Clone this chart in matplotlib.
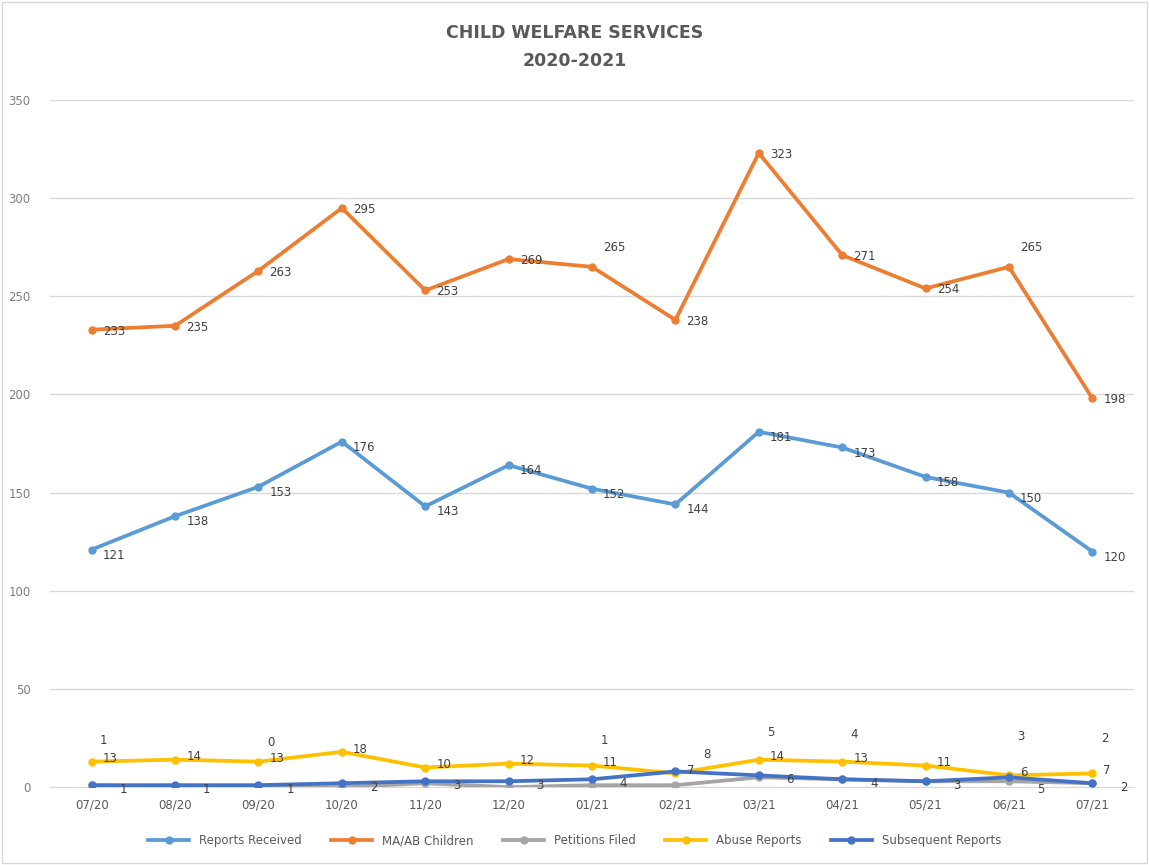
import matplotlib
matplotlib.use("Agg")
import matplotlib.pyplot as plt
from matplotlib.patches import Rectangle

months = ["07/20", "08/20", "09/20", "10/20", "11/20", "12/20", "01/21",
          "02/21", "03/21", "04/21", "05/21", "06/21", "07/21"]
reports_received = [121, 138, 153, 176, 143, 164, 152, 144, 181, 173, 158, 150, 120]
maab_children = [233, 235, 263, 295, 253, 269, 265, 238, 323, 271, 254, 265, 198]
petitions_filed = [1, 0, 0, 0, 2, 0, 1, 1, 5, 4, 3, 3, 2]
abuse_reports = [13, 14, 13, 18, 10, 12, 11, 7, 14, 13, 11, 6, 7]
subsequent_reports = [1, 1, 1, 2, 3, 3, 4, 8, 6, 4, 3, 5, 2]

series = [
    ("Reports Received", reports_received, "#5B9BD5"),
    ("MA/AB Children", maab_children, "#ED7D31"),
    ("Petitions Filed", petitions_filed, "#A5A5A5"),
    ("Abuse Reports", abuse_reports, "#FFC000"),
    ("Subsequent Reports", subsequent_reports, "#4472C4"),
]

fig = plt.figure(figsize=(11.49, 8.65), dpi=100)
fig.patches.append(Rectangle((0.002, 0.002), 0.996, 0.996, transform=fig.transFigure,
                             fill=False, edgecolor="#D9D9D9", linewidth=1))
ax = fig.add_axes([0.0435, 0.090, 0.9435, 0.7944])

x = list(range(len(months)))
for name, vals, col in series:
    ax.plot(x, vals, color=col, linewidth=2.7, marker="o", markersize=5,
            label=name, zorder=3)

lab = dict(fontsize=8.5, color="#404040", va="center", zorder=5)
for i, v in enumerate(reports_received):
    ax.annotate(str(v), (i, v), xytext=(8, -4), textcoords="offset points", **lab)
for i, v in enumerate(maab_children):
    off = (8, -1)
    if i in (6, 11):
        off = (8, 14)
    ax.annotate(str(v), (i, v), xytext=off, textcoords="offset points", **lab)
for i, v in enumerate(abuse_reports):
    ax.annotate(str(v), (i, v), xytext=(8, 2), textcoords="offset points", **lab)
for i, v in enumerate(subsequent_reports):
    dy = -3
    if abs(subsequent_reports[i] - abuse_reports[i]) < 5:
        dy = -9 if subsequent_reports[i] <= abuse_reports[i] else 12
    ax.annotate(str(v), (i, v), xytext=(20, dy), textcoords="offset points", **lab)
for i, v in enumerate(petitions_filed):
    if i in (0, 2, 6, 8, 9, 11, 12):
        ax.annotate(str(v), (i, v), xytext=(6, 32), textcoords="offset points",
                    ha="left", **lab)

ax.set_xlim(-0.5, len(months) - 0.5)
ax.set_ylim(0, 350)
ax.set_yticks(range(0, 351, 50))
ax.set_xticks(x)
ax.set_xticklabels(months)
ax.grid(axis="y", color="#D9D9D9", linewidth=1)
ax.set_axisbelow(True)
for s in ["top", "right", "left"]:
    ax.spines[s].set_visible(False)
ax.spines["bottom"].set_color("#D9D9D9")
ax.tick_params(axis="both", length=0, colors="#595959", labelsize=8.5)
ax.tick_params(axis="y", pad=14, colors="#7F7F7F")
ax.tick_params(axis="x", pad=8)

fig.text(0.5, 0.962, "CHILD WELFARE SERVICES", ha="center", va="center",
         fontsize=12.5, color="#595959", fontweight="bold")
fig.text(0.5, 0.930, "2020-2021", ha="center", va="center",
         fontsize=12.5, color="#595959", fontweight="bold")

leg = fig.legend(loc="center", bbox_to_anchor=(0.5, 0.028), ncol=5, frameon=False,
                 fontsize=8.5, handlelength=3.5, columnspacing=2.5)
for t in leg.get_texts():
    t.set_color("#595959")

fig.savefig("out.png", dpi=100)
